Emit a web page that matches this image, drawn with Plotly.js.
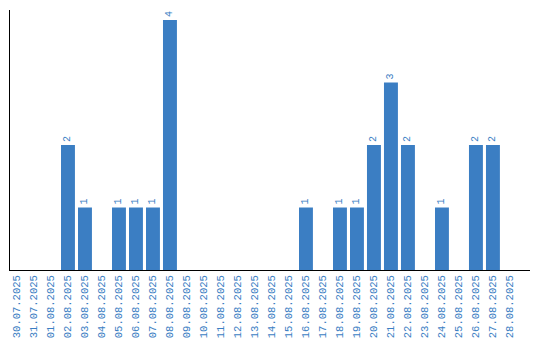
<!DOCTYPE html>
<html>
<head>
<meta charset="utf-8">
<script src="https://cdn.plot.ly/plotly-3.0.1.min.js"></script>
<style>html,body{margin:0;padding:0;background:#fff;}#chart{width:540px;height:340px;}</style>
</head>
<body>
<div id="chart"></div>
<script>
const dates = ["30.07.2025","31.07.2025","01.08.2025","02.08.2025","03.08.2025","04.08.2025","05.08.2025","06.08.2025","07.08.2025","08.08.2025","09.08.2025","10.08.2025","11.08.2025","12.08.2025","13.08.2025","14.08.2025","15.08.2025","16.08.2025","17.08.2025","18.08.2025","19.08.2025","20.08.2025","21.08.2025","22.08.2025","23.08.2025","24.08.2025","25.08.2025","26.08.2025","27.08.2025","28.08.2025"];
const counts = [0,0,0,2,1,0,1,1,1,4,0,0,0,0,0,0,0,1,0,1,1,2,3,2,0,1,0,2,2,0];
const labels = counts.map(v => v > 0 ? String(v) : "");
const blue = "#3b7ec3";

Plotly.newPlot("chart", [{
  type: "bar",
  x: dates.map((d, i) => i),
  y: counts,
  text: labels,
  textposition: "outside",
  textangle: -90,
  cliponaxis: false,
  textfont: {family: "Liberation Mono", size: 10, color: blue},
  marker: {color: blue},
  width: 0.82,
  hoverinfo: "none"
}], {
  width: 540, height: 340,
  margin: {l: 10, r: 10, t: 10, b: 70},
  paper_bgcolor: "#fff", plot_bgcolor: "#fff",
  showlegend: false,
  xaxis: {
    type: "linear",
    range: [-0.41, 30.18],
    tickmode: "array",
    tickvals: dates.map((d, i) => i),
    ticktext: dates,
    tickangle: -90,
    tickfont: {family: "Liberation Mono", size: 10.5, color: blue},
    showgrid: false, zeroline: false,
    showline: true, linecolor: "#000", linewidth: 1,
    ticks: ""
  },
  yaxis: {
    range: [0, 4.16],
    showticklabels: false,
    showgrid: false, zeroline: false,
    showline: true, linecolor: "#000", linewidth: 1,
    ticks: ""
  }
}, {staticPlot: true});
</script>
</body>
</html>
